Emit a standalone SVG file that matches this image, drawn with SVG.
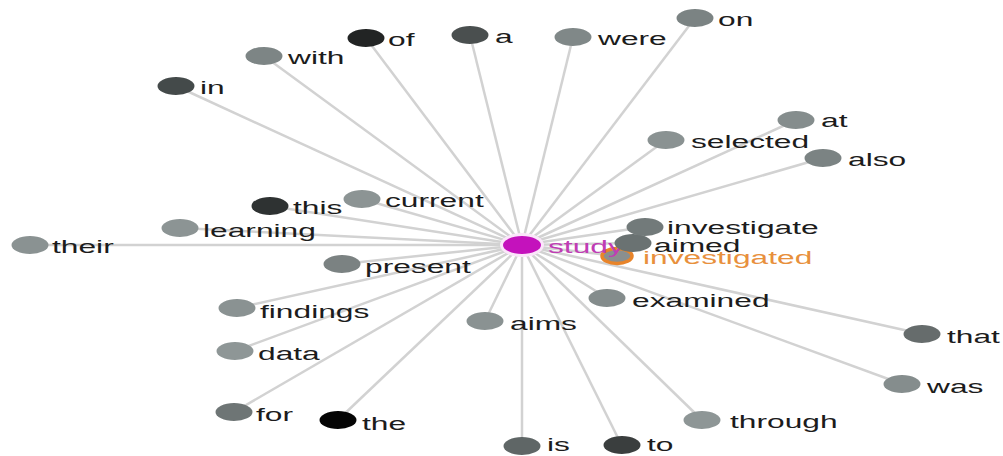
<svg xmlns="http://www.w3.org/2000/svg" width="1003" height="456" viewBox="0 0 1003 456">
<style>
.e{stroke:#d2d2d2;stroke-width:2.5;fill:none}
.n{rx:18.5px;ry:9px}
.l{font-family:"Liberation Sans",Arial,sans-serif;font-size:19px;fill:#1c1c1c}
</style>
<rect width="1003" height="456" fill="#ffffff"/>
<g id="connectors" class="e">
<line x1="522" y1="245" x2="30" y2="245"/>
<line x1="522" y1="245" x2="180" y2="228"/>
<line x1="522" y1="245" x2="270" y2="206"/>
<line x1="522" y1="245" x2="362" y2="199"/>
<line x1="522" y1="245" x2="264" y2="56"/>
<line x1="522" y1="245" x2="176" y2="86"/>
<line x1="522" y1="245" x2="366" y2="38"/>
<line x1="522" y1="245" x2="470" y2="35"/>
<line x1="522" y1="245" x2="573" y2="37"/>
<line x1="522" y1="245" x2="695" y2="18"/>
<line x1="522" y1="245" x2="666" y2="140"/>
<line x1="522" y1="245" x2="796" y2="120"/>
<line x1="522" y1="245" x2="823" y2="158"/>
<line x1="522" y1="245" x2="645" y2="227"/>
<line x1="522" y1="245" x2="633" y2="243"/>
<line x1="522" y1="245" x2="617" y2="256"/>
<line x1="522" y1="245" x2="342" y2="264"/>
<line x1="522" y1="245" x2="237" y2="308"/>
<line x1="522" y1="245" x2="235" y2="351"/>
<line x1="522" y1="245" x2="234" y2="412"/>
<line x1="522" y1="245" x2="338" y2="420"/>
<line x1="522" y1="245" x2="485" y2="321"/>
<line x1="522" y1="245" x2="607" y2="298"/>
<line x1="522" y1="245" x2="522" y2="447"/>
<line x1="522" y1="245" x2="622" y2="446"/>
<line x1="522" y1="245" x2="702" y2="420"/>
<line x1="522" y1="245" x2="902" y2="384"/>
<line x1="522" y1="245" x2="922" y2="334"/>
</g>
<g id="node-their"><ellipse class="n" cx="30" cy="245" fill="#8a9292"/><text class="l" transform="matrix(1.67,0,0,1,52,253)">their</text></g>
<g id="node-learning"><ellipse class="n" cx="180" cy="228" fill="#8c9494"/><text class="l" transform="matrix(1.67,0,0,1,203,237)">learning</text></g>
<g id="node-this"><ellipse class="n" cx="270" cy="206" fill="#2e3232"/><text class="l" transform="matrix(1.67,0,0,1,293,214)">this</text></g>
<g id="node-current"><ellipse class="n" cx="362" cy="199" fill="#8c9494"/><text class="l" transform="matrix(1.67,0,0,1,385,207)">current</text></g>
<g id="node-with"><ellipse class="n" cx="264" cy="56" fill="#7d8585"/><text class="l" transform="matrix(1.67,0,0,1,288,64)">with</text></g>
<g id="node-in"><ellipse class="n" cx="176" cy="86" fill="#444a4a"/><text class="l" transform="matrix(1.67,0,0,1,200,94)">in</text></g>
<g id="node-of"><ellipse class="n" cx="366" cy="38" fill="#222424"/><text class="l" transform="matrix(1.67,0,0,1,388,46)">of</text></g>
<g id="node-a"><ellipse class="n" cx="470" cy="35" fill="#4a4f4f"/><text class="l" transform="matrix(1.67,0,0,1,495,43)">a</text></g>
<g id="node-were"><ellipse class="n" cx="573" cy="37" fill="#808888"/><text class="l" transform="matrix(1.67,0,0,1,598,45)">were</text></g>
<g id="node-on"><ellipse class="n" cx="695" cy="18" fill="#7b8383"/><text class="l" transform="matrix(1.67,0,0,1,718,26)">on</text></g>
<g id="node-selected"><ellipse class="n" cx="666" cy="140" fill="#8a9292"/><text class="l" transform="matrix(1.67,0,0,1,691,148)">selected</text></g>
<g id="node-at"><ellipse class="n" cx="796" cy="120" fill="#858d8d"/><text class="l" transform="matrix(1.67,0,0,1,821,127)">at</text></g>
<g id="node-also"><ellipse class="n" cx="823" cy="158" fill="#7b8383"/><text class="l" transform="matrix(1.67,0,0,1,848,166)">also</text></g>
<g id="node-present"><ellipse class="n" cx="342" cy="264" fill="#7b8282"/><text class="l" transform="matrix(1.67,0,0,1,365,273)">present</text></g>
<g id="node-findings"><ellipse class="n" cx="237" cy="308" fill="#8a9292"/><text class="l" transform="matrix(1.67,0,0,1,260,318)">findings</text></g>
<g id="node-data"><ellipse class="n" cx="235" cy="351" fill="#8e9696"/><text class="l" transform="matrix(1.67,0,0,1,258,360)">data</text></g>
<g id="node-for"><ellipse class="n" cx="234" cy="412" fill="#6e7575"/><text class="l" transform="matrix(1.67,0,0,1,256,421)">for</text></g>
<g id="node-the"><ellipse class="n" cx="338" cy="420" fill="#050505"/><text class="l" transform="matrix(1.67,0,0,1,362,430)">the</text></g>
<g id="node-aims"><ellipse class="n" cx="485" cy="321" fill="#8a9292"/><text class="l" transform="matrix(1.67,0,0,1,510,330)">aims</text></g>
<g id="node-examined"><ellipse class="n" cx="607" cy="298" fill="#848c8c"/><text class="l" transform="matrix(1.67,0,0,1,632,307)">examined</text></g>
<g id="node-is"><ellipse class="n" cx="522" cy="446" fill="#5f6666"/><text class="l" transform="matrix(1.67,0,0,1,547,451)">is</text></g>
<g id="node-to"><ellipse class="n" cx="622" cy="445" fill="#3a3e3e"/><text class="l" transform="matrix(1.67,0,0,1,647,451)">to</text></g>
<g id="node-through"><ellipse class="n" cx="702" cy="420" fill="#8e9696"/><text class="l" transform="matrix(1.67,0,0,1,730,428)">through</text></g>
<g id="node-was"><ellipse class="n" cx="902" cy="384" fill="#858d8d"/><text class="l" transform="matrix(1.67,0,0,1,927,393)">was</text></g>
<g id="node-that"><ellipse class="n" cx="922" cy="334" fill="#666c6c"/><text class="l" transform="matrix(1.67,0,0,1,947,343)">that</text></g>
<g id="node-investigated"><ellipse cx="617" cy="256" rx="15" ry="7.5" fill="#8a8f8f" stroke="#e8842a" stroke-width="3.5"/><text class="l" transform="matrix(1.67,0,0,1,643,264)" style="fill:#e8903c">investigated</text></g>
<g id="node-study"><ellipse cx="522" cy="245" rx="22" ry="12" fill="#fbe6fa"/><ellipse cx="522" cy="245" rx="19" ry="9" fill="#c412bc"/><text class="l" transform="matrix(1.67,0,0,1,548,253)" style="fill:#c03cb4">study</text></g>
<g id="node-aimed"><ellipse class="n" cx="633" cy="243" fill="#6a7272"/><text class="l" transform="matrix(1.67,0,0,1,654,252)">aimed</text></g>
<g id="node-investigate"><ellipse class="n" cx="645" cy="227" fill="#727a7a"/><text class="l" transform="matrix(1.67,0,0,1,667,234)">investigate</text></g>
</svg>
